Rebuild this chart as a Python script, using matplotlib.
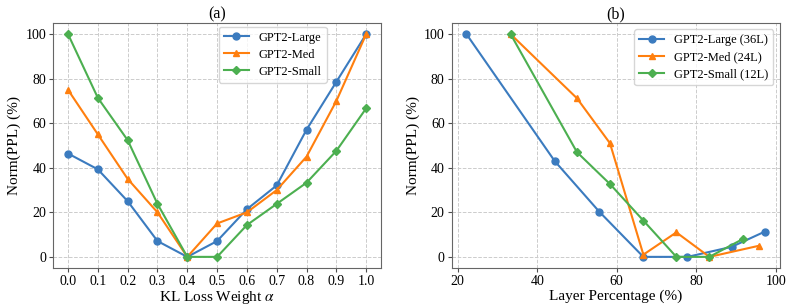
import matplotlib.pyplot as plt

plt.rcParams["font.family"] = ["Liberation Serif", "DejaVu Serif"]
plt.rcParams["mathtext.fontset"] = "stix"

# panel (a): KL loss weight sweep
alpha = [0.0, 0.1, 0.2, 0.3, 0.4, 0.5, 0.6, 0.7, 0.8, 0.9, 1.0]
large_a = [46.4, 39.3, 25.0, 7.1, 0.0, 7.1, 21.4, 32.1, 57.1, 78.6, 100.0]
med_a = [75.0, 55.0, 35.0, 20.0, 0.0, 15.0, 20.0, 30.0, 45.0, 70.0, 100.0]
small_a = [100.0, 71.4, 52.4, 23.8, 0.0, 0.0, 14.3, 23.8, 33.3, 47.6, 66.7]

# panel (b): layer percentage
large_x = [22.2, 44.4, 55.6, 66.7, 77.8, 88.9, 97.2]
large_b = [100.0, 43.0, 20.3, 0.0, 0.0, 4.5, 11.3]
med_x = [33.3, 50.0, 58.3, 66.7, 75.0, 83.3, 95.8]
med_b = [100.0, 71.2, 51.0, 1.0, 11.0, 0.0, 5.0]
small_x = [33.3, 50.0, 58.3, 66.7, 75.0, 83.3, 91.7]
small_b = [100.0, 47.0, 32.7, 16.3, 0.0, 0.0, 8.0]

BLUE = "#3b7bbf"
ORANGE = "#ff7f0e"
GREEN = "#4caf50"


def style_axes(ax):
    ax.grid(True, linestyle="--", color="0.8", linewidth=0.7)
    ax.set_axisbelow(True)
    for s in ax.spines.values():
        s.set_color("0.4")
    ax.tick_params(labelsize=10, color="0.3", length=3, pad=2)
    ax.set_ylabel("Norm(PPL) (%)", fontsize=11, labelpad=3)
    ax.set_yticks([0, 20, 40, 60, 80, 100])


fig, (ax1, ax2) = plt.subplots(1, 2, figsize=(7.93, 3.07), dpi=100)
fig.subplots_adjust(left=0.067, right=0.983, top=0.925, bottom=0.127, wspace=0.215)

ax1.plot(alpha, large_a, marker="o", ms=5, lw=1.5, color=BLUE, label="GPT2-Large")
ax1.plot(alpha, med_a, marker="^", ms=5, lw=1.5, color=ORANGE, label="GPT2-Med")
ax1.plot(alpha, small_a, marker="D", ms=4.5, lw=1.5, color=GREEN, label="GPT2-Small")
ax1.set_xticks(alpha)
ax1.set_xlabel(r"KL Loss Weight $\alpha$", fontsize=11, labelpad=1)
ax1.set_title("(a)", fontsize=11.5, pad=3)
style_axes(ax1)
ax1.legend(loc="upper right", bbox_to_anchor=(0.835, 0.985), borderaxespad=0,
           fontsize=9, handlelength=2.0, labelspacing=0.4)

ax2.plot(large_x, large_b, marker="o", ms=5, lw=1.5, color=BLUE, label="GPT2-Large (36L)")
ax2.plot(med_x, med_b, marker="^", ms=5, lw=1.5, color=ORANGE, label="GPT2-Med (24L)")
ax2.plot(small_x, small_b, marker="D", ms=4.5, lw=1.5, color=GREEN, label="GPT2-Small (12L)")
ax2.set_xticks([20, 40, 60, 80, 100])
ax2.set_xlabel("Layer Percentage (%)", fontsize=11, labelpad=1)
ax2.set_title("(b)", fontsize=11.5, pad=3)
style_axes(ax2)
ax2.legend(loc="upper right", fontsize=9, handlelength=2.0, labelspacing=0.4)

fig.savefig("out.png", dpi=100)
